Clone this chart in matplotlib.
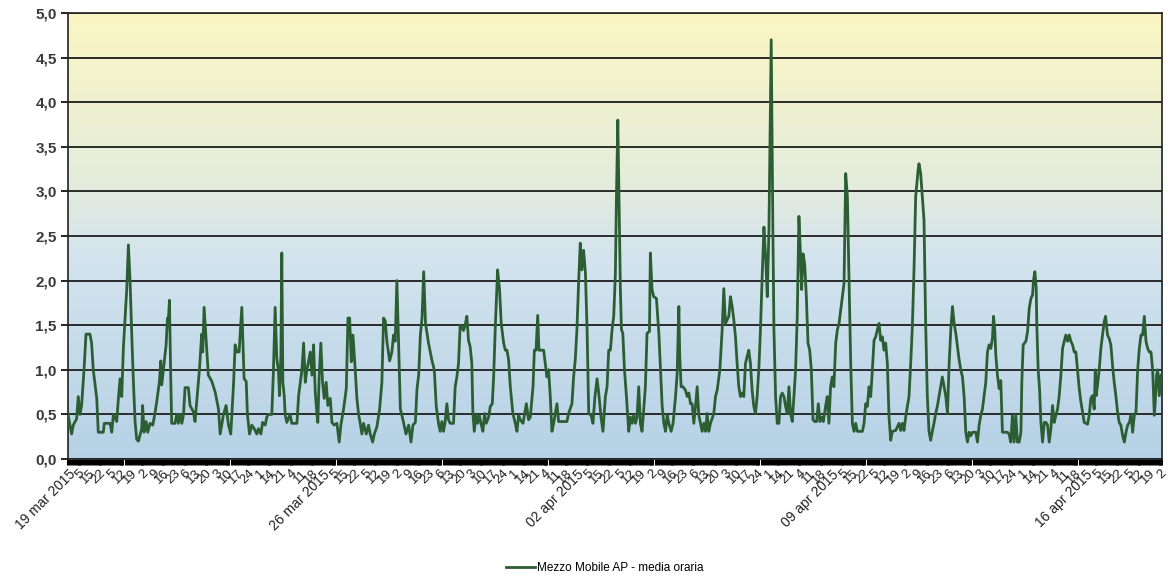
import numpy as np
import matplotlib
matplotlib.use("Agg")
import matplotlib.pyplot as plt
from matplotlib.colors import LinearSegmentedColormap
from matplotlib.ticker import MultipleLocator, FuncFormatter

plt.rcParams["font.family"] = ["Liberation Sans", "DejaVu Sans"]

# (hours since 19 mar 2015 00:00, hourly mean), one block per week
week1 = [
    (0, 0.5), (2.4, 0.28), (3.5, 0.38), (5.7, 0.45), (6.8, 0.7), (7.9, 0.5), (9, 0.6), (10.6, 1.0),
    (11.9, 1.4), (14.5, 1.4), (15.6, 1.3), (16.7, 1.0), (19, 0.68), (20, 0.3), (23.3, 0.3), (24, 0.4),
    (27.8, 0.4), (28.9, 0.3), (30, 0.5), (32.2, 0.42), (33.3, 0.68), (34.4, 0.9), (35.5, 0.7), (36.6, 1.25),
    (38.8, 1.9), (39.9, 2.4), (41, 2.0), (42.1, 1.4), (43.2, 0.87), (44.3, 0.42), (45.4, 0.22), (46.5, 0.2),
    (48.7, 0.34), (49.3, 0.6), (50.2, 0.3), (51.6, 0.42), (52.7, 0.3), (54.2, 0.4), (56, 0.38), (57.5, 0.52),
    (58.6, 0.64), (60.4, 0.87), (61.3, 1.1), (61.9, 0.83), (63, 1.0), (64.8, 1.28), (65.7, 1.58), (66.3, 1.55),
    (67, 1.78), (67.9, 0.87), (68.5, 0.4), (70.7, 0.4), (71.8, 0.5), (72.9, 0.4), (74, 0.5), (75.2, 0.4),
    (76.3, 0.5), (77.3, 0.8), (79.5, 0.8), (80.6, 0.6), (82.8, 0.53), (83.9, 0.42), (85, 0.64), (86.8, 1.0),
    (88.3, 1.4), (89, 1.2), (89.9, 1.7), (91.2, 1.35), (92.7, 0.94), (95, 0.87), (97.2, 0.75), (99.4, 0.56),
    (100.5, 0.28), (102.7, 0.5), (104.4, 0.6), (106, 0.38), (107.5, 0.28), (109.3, 0.83), (110.4, 1.28),
    (111.5, 1.2), (113, 1.2), (114.8, 1.7), (116.3, 0.9), (117.7, 0.87), (118.5, 0.5), (119.9, 0.28),
    (121.4, 0.38), (123, 0.34), (124.7, 0.28), (125.8, 0.34), (127.4, 0.28), (128.5, 0.41), (130.2, 0.38),
    (131.3, 0.47), (132.4, 0.5), (134.6, 0.5), (135.7, 1.0), (136.8, 1.7), (137.9, 1.13), (139, 0.98),
    (139.7, 0.71), (140.6, 1.16), (141.2, 2.31), (141.9, 0.86), (142.8, 0.71), (143.4, 0.5), (144.5, 0.41),
    (146.7, 0.5), (147.8, 0.4), (151.2, 0.4), (152.3, 0.71), (153.4, 0.86), (154.5, 1.0), (155.6, 1.3),
    (156.7, 0.86), (157.8, 1.0), (158.9, 1.1), (160, 1.2), (161.1, 0.94), (162.2, 1.28), (163.3, 0.75),
    (164.4, 0.5), (165, 0.41), (165.9, 0.94), (167, 1.3),
]
week2 = [
    (168.1, 0.86), (169.2, 0.68), (170.5, 0.86), (171.6, 0.6), (173.2, 0.68), (174.3, 0.41), (175.8, 0.38),
    (177.6, 0.4), (179.1, 0.19), (180.2, 0.38), (182, 0.56), (183.8, 0.79), (184.9, 1.58), (186, 1.58),
    (187.1, 1.09), (188.2, 1.39), (189.7, 1.0), (190.8, 0.68), (191.9, 0.5), (193, 0.4), (194.1, 0.28),
    (195.2, 0.4), (197, 0.28), (198.5, 0.38), (199.6, 0.28), (201.2, 0.19), (202.3, 0.28), (204, 0.36),
    (205.8, 0.56), (207.3, 0.86), (208.4, 1.58), (209.5, 1.55), (210.6, 1.32), (212.4, 1.1), (213.9, 1.2),
    (215, 1.39), (216.1, 1.32), (217.2, 2.0), (218.3, 1.32), (219.5, 0.56), (221.6, 0.41), (223.2, 0.28),
    (225, 0.38), (226.5, 0.19), (227.8, 0.38), (229.4, 0.41), (230.5, 0.79), (231.6, 0.94), (232.7, 1.39),
    (233.8, 1.58), (234.9, 2.1), (236.1, 1.52), (238.1, 1.3), (240.3, 1.11), (241.9, 1.0), (243.2, 0.59),
    (244.7, 0.4), (245.8, 0.31), (246.9, 0.42), (248, 0.31), (249.1, 0.42), (250.2, 0.62), (251.3, 0.44),
    (252.4, 0.4), (254.6, 0.4), (255.7, 0.81), (256.8, 0.92), (257.9, 1.07), (259, 1.5), (260.1, 1.48),
    (261.2, 1.44), (262.3, 1.5), (263.4, 1.6), (264.5, 1.33), (265.6, 1.26), (266.7, 1.07), (267.4, 0.51),
    (268.3, 0.31), (269.4, 0.49), (270.5, 0.4), (271.6, 0.49), (272.7, 0.4), (274, 0.31), (275.1, 0.51),
    (276.2, 0.4), (277.8, 0.47), (278.9, 0.59), (280.2, 0.62), (281.1, 0.92), (282.2, 1.48), (283.7, 2.12),
    (285, 1.9), (286.1, 1.52), (287.7, 1.3), (288.8, 1.22), (289.9, 1.22), (291, 1.11), (292.1, 0.81),
    (293.8, 0.51), (295.4, 0.4), (296.5, 0.31), (297.6, 0.49), (298.7, 0.44), (300.5, 0.4), (302.7, 0.62),
    (304.2, 0.44), (305.3, 0.47), (307.1, 0.81), (308, 1.22), (309.1, 1.22), (310.2, 1.61), (311, 1.22),
    (314.1, 1.22), (315.2, 1.07), (316.3, 0.92), (317.4, 1.0), (318.5, 0.7), (319.6, 0.31), (320.7, 0.4),
    (321.8, 0.51), (322.9, 0.62), (324, 0.42), (325.1, 0.42), (329.5, 0.42), (330.6, 0.51), (332.8, 0.62),
    (333.9, 0.92), (335, 1.11),
]
week3 = [
    (336.1, 1.45), (337.2, 1.97), (338.3, 2.42), (339.4, 2.12), (340.5, 2.34), (341.7, 2.09), (342.8, 1.45),
    (343.9, 0.51), (345.4, 0.49), (346.7, 0.4), (348, 0.7), (349.4, 0.9), (350.5, 0.74), (352, 0.47),
    (353.3, 0.31), (354.9, 0.7), (356, 0.81), (357.1, 1.22), (358.2, 1.22), (359.3, 1.45), (360.4, 1.6),
    (361.5, 2.08), (362.2, 2.94), (363.1, 3.8), (364.2, 2.57), (364.8, 1.9), (365.5, 1.45), (366.4, 1.41),
    (367.5, 1.0), (368.8, 0.7), (370.3, 0.31), (371.4, 0.47), (372.5, 0.4), (373.6, 0.49), (374.7, 0.4),
    (375.8, 0.47), (376.9, 0.81), (378, 0.4), (379.1, 0.31), (380.2, 0.55), (381.3, 0.81), (382.4, 1.41),
    (384, 1.43), (384.6, 2.31), (385.7, 1.9), (386.8, 1.82), (388.6, 1.8), (390.2, 1.41), (391.3, 1.0),
    (392.4, 0.59), (393.5, 0.4), (394.6, 0.31), (395.7, 0.49), (396.8, 0.4), (398.3, 0.31), (399.6, 0.4),
    (401.2, 0.7), (402.3, 0.96), (403.4, 1.71), (404, 1.15), (404.9, 0.81), (406.2, 0.81), (407.8, 0.77),
    (408.9, 0.7), (410, 0.74), (411.1, 0.62), (412.2, 0.62), (413.3, 0.4), (414.4, 0.59), (415.5, 0.81),
    (416.6, 0.49), (417.7, 0.4), (418.8, 0.31), (419.9, 0.4), (421, 0.31), (422.1, 0.51), (423.2, 0.31),
    (424.3, 0.4), (426.5, 0.51), (427.6, 0.7), (428.7, 0.77), (430.5, 1.0), (432, 1.45), (433.1, 1.91),
    (434.2, 1.52), (435.3, 1.56), (436.4, 1.6), (437.5, 1.82), (438.6, 1.71), (439.7, 1.56), (440.8, 1.37),
    (441.9, 1.07), (443, 0.81), (444.1, 0.7), (445.2, 0.74), (446.3, 0.7), (447.4, 1.07), (448.5, 1.15),
    (449.6, 1.22), (450.7, 1.07), (451.8, 0.77), (452.9, 0.59), (454, 0.51), (455.1, 0.7), (456.2, 1.0),
    (457.3, 1.45), (458.5, 2.08), (459.6, 2.6), (460.7, 2.27), (461.8, 1.82), (462.9, 2.57), (464.4, 4.7),
    (465.5, 2.57), (466.2, 1.45), (467.3, 0.7), (468.4, 0.4), (469.5, 0.4), (470.6, 0.7), (471.7, 0.74),
    (472.8, 0.7), (473.9, 0.59), (475, 0.51), (476.1, 0.81), (477.2, 0.51), (478.3, 0.42), (479.4, 0.7),
    (480.5, 1.0), (481.6, 1.6), (482.7, 2.72), (483.8, 2.27), (484.5, 1.9), (485.4, 2.3), (486.5, 2.19),
    (487.6, 1.82), (488.7, 1.3), (489.8, 1.22), (490.9, 1.0), (492, 0.44), (493.1, 0.42), (494.4, 0.42),
    (495.5, 0.62), (496.6, 0.42), (497.7, 0.47), (498.8, 0.42), (500.3, 0.59), (501.4, 0.7), (502.5, 0.4),
]
week4 = [
    (503.6, 0.81), (504.7, 0.92), (505.8, 0.81), (507, 1.3), (508.1, 1.45), (509.2, 1.52), (510.3, 1.67),
    (511.4, 1.82), (512.5, 1.97), (513.6, 3.2), (514.7, 2.94), (515.8, 2.0), (516.9, 1.07), (518, 0.4),
    (519.1, 0.31), (520.2, 0.4), (521.3, 0.31), (524.6, 0.31), (525.7, 0.4), (526.8, 0.62), (527.9, 0.59),
    (529, 0.81), (530.1, 0.7), (531.2, 1.0), (532.3, 1.33), (533.4, 1.37), (534.5, 1.45), (535.6, 1.52),
    (536.7, 1.33), (537.8, 1.37), (538.9, 1.22), (540, 1.3), (541.1, 1.07), (542.2, 0.47), (543.3, 0.21),
    (544.4, 0.31), (546.6, 0.32), (548.8, 0.4), (549.9, 0.32), (551, 0.4), (552.1, 0.32), (553.2, 0.47),
    (554.3, 0.59), (555.4, 0.7), (556.5, 1.07), (557.6, 1.48), (558.7, 2.12), (559.8, 2.94), (561.4, 3.24),
    (562, 3.31), (563.1, 3.2), (564.2, 2.94), (565.3, 2.68), (566.4, 1.52), (567.5, 0.7), (568.6, 0.31),
    (569.7, 0.21), (570.8, 0.31), (571.9, 0.4), (573, 0.51), (574.1, 0.59), (575.2, 0.7), (576.3, 0.81),
    (577.4, 0.92), (578.6, 0.81), (579.7, 0.7), (580.8, 0.51), (581.9, 1.07), (583, 1.45), (584.1, 1.71),
    (585.2, 1.52), (586.3, 1.41), (587.4, 1.26), (588.5, 1.11), (589.6, 1.0), (590.7, 0.92), (591.8, 0.7),
    (592.9, 0.3), (594, 0.19), (595.1, 0.3), (596.2, 0.26), (597.3, 0.3), (599.5, 0.3), (600.6, 0.19),
    (601.7, 0.38), (602.8, 0.49), (603.9, 0.56), (605, 0.71), (606.1, 0.86), (607.2, 1.2), (608.3, 1.28),
    (609.4, 1.24), (610.5, 1.35), (611.2, 1.6), (612.1, 1.43), (612.7, 1.17), (613.8, 0.94), (614.9, 0.79),
    (616, 0.88), (616.7, 0.49), (617.1, 0.3), (620.4, 0.3), (621.5, 0.28), (622.6, 0.19), (623.7, 0.49),
    (624.8, 0.19), (625.9, 0.49), (627, 0.19), (628.2, 0.19), (629.3, 0.3), (629.9, 0.86), (630.8, 1.28),
    (632.6, 1.32), (633.7, 1.43), (634.8, 1.69), (635.9, 1.8), (637, 1.84), (637.6, 2.0), (638.5, 2.1),
    (639.4, 1.92), (639.8, 1.5), (640.7, 1.0), (641.6, 0.79), (642.5, 0.41), (643.6, 0.19), (644.7, 0.41),
    (645.8, 0.41), (646.9, 0.38), (648, 0.19), (649.1, 0.34), (650.2, 0.6), (651.3, 0.41), (652.4, 0.49),
    (653.5, 0.56), (654.6, 0.71), (655.7, 0.94), (656.8, 1.24), (657.9, 1.32), (659, 1.39), (660.1, 1.32),
    (661.2, 1.39), (662.3, 1.32), (663.4, 1.28), (664.5, 1.2), (665.6, 1.2), (666.7, 1.0), (667.8, 0.79),
    (668.9, 0.64), (670, 0.53), (671.1, 0.41),
]
week5 = [
    (673.3, 0.39), (674.4, 0.49), (675.5, 0.68), (676.6, 0.71), (677.7, 0.56), (678.4, 1.0), (679, 0.71),
    (679.9, 0.83), (681, 1.0), (682.1, 1.24), (683.2, 1.39), (684.3, 1.54), (685.2, 1.6), (686.5, 1.39),
    (687.6, 1.35), (688.7, 1.28), (689.8, 1.05), (690.9, 0.86), (692, 0.71), (693.1, 0.53), (694.2, 0.41),
    (695.3, 0.38), (696.5, 0.26), (697.6, 0.19), (698.7, 0.3), (699.8, 0.38), (700.9, 0.41), (702, 0.49),
    (703.1, 0.3), (704.2, 0.49), (705.3, 0.53), (706.4, 1.0), (707.5, 1.24), (708.6, 1.39), (709.7, 1.39),
    (710.8, 1.6), (711.9, 1.32), (713, 1.24), (714.1, 1.2), (715.2, 1.2), (716.3, 1.0), (717.4, 0.49),
    (718, 0.64), (718.9, 0.94), (719.6, 1.0), (720.7, 0.71), (721.8, 0.94),
]

date_hours = [0, 168, 336, 504, 672]
date_labels = ["19 mar 2015", "26 mar 2015", "02 apr 2015", "09 apr 2015", "16 apr 2015"]
# the crowded small labels between the dates (they overlap in the original too)
small_labels = ["5", "15", "22", "5", "12", "19", "2", "9", "16", "23", "6", "13", "20", "3",
                "10", "17", "24", "1", "14", "21", "4", "11", "18"]
y_ticks = [0.0, 0.5, 1.0, 1.5, 2.0, 2.5, 3.0, 3.5, 4.0, 4.5, 5.0]
series_name = "Mezzo Mobile AP - media oraria"
x_end = 722.5

hours, values = zip(*(week1 + week2 + week3 + week4 + week5))

fig = plt.figure(figsize=(11.68, 5.8), dpi=100)
ax = fig.add_axes([0.0582, 0.2086, 0.9367, 0.769])

# gradient background: pale yellow at top -> light blue at the bottom
bg = LinearSegmentedColormap.from_list(
    "bg", [(0.0, "#b6d1e6"), (0.45, "#d3e4ee"), (0.62, "#e4ecdc"), (1.0, "#fbf6c2")])
grad = np.linspace(0, 1, 256).reshape(-1, 1)
ax.imshow(grad, cmap=bg, origin="lower", aspect="auto",
          extent=[0, x_end, 0, 5], zorder=0)

for y in y_ticks:
    ax.axhline(y, color="#2b2b2b", lw=1.4, zorder=1)

ax.plot(hours, values, color="#2c5e34", lw=2.0, zorder=3, label=series_name)

ax.set_xlim(0, x_end)
ax.set_ylim(0, 5)
ax.set_yticks(y_ticks)
ax.yaxis.set_major_formatter(FuncFormatter(lambda v, p: f"{v:.1f}".replace(".", ",")))
ax.tick_params(axis="y", length=5, width=1.2, labelsize=11, labelcolor="#3a3a3a", pad=3)
for t in ax.get_yticklabels():
    t.set_fontweight("bold")

# x ticks: date every week + small crowded labels every 7 hours
tick_pos, tick_txt, tick_big = [], [], []
for w, d in zip(date_hours, date_labels):
    tick_pos.append(w)
    tick_txt.append(d)
    tick_big.append(True)
    for k, s in enumerate(small_labels, start=1):
        p = w + 7 * k
        if p >= w + 168 or p > x_end:
            break
        tick_pos.append(p)
        tick_txt.append(s)
        tick_big.append(False)

ax.set_xticks(tick_pos)
ax.set_xticklabels(tick_txt, rotation=45, ha="right", rotation_mode="anchor")
for t, big in zip(ax.get_xticklabels(), tick_big):
    t.set_fontsize(10 if big else 9.5)
    t.set_color("#222222")
ax.xaxis.set_minor_locator(MultipleLocator(2))
ax.tick_params(axis="x", which="both", length=4, width=2.2, color="black", pad=2)

for s in ax.spines.values():
    s.set_color("#222222")
    s.set_linewidth(1.2)

fig.legend(loc="center", bbox_to_anchor=(0.518, 0.02), frameon=False, fontsize=8.5,
           handlelength=2.4, handletextpad=0.2)

fig.savefig("out.png", dpi=100)
